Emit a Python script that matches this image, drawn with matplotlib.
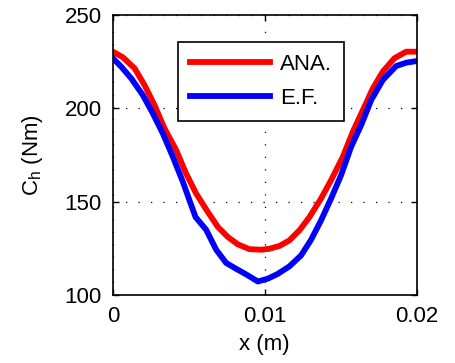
import matplotlib

matplotlib.use("Agg")
import matplotlib.pyplot as plt

x_ana = [0.0, 0.00066, 0.00143, 0.00208, 0.00274, 0.0034, 0.00417, 0.00482,
         0.00548, 0.00625, 0.00691, 0.00757, 0.00822, 0.00899, 0.00976, 0.0103,
         0.01096, 0.01162, 0.01228, 0.01294, 0.0137, 0.01436, 0.01513, 0.01579,
         0.01645, 0.01711, 0.01776, 0.01853, 0.0193, 0.02]
ch_ana = [230.3, 227.3, 221.4, 212.5, 201.7, 189.2, 177.6, 165.1,
          154.4, 144.5, 136.5, 131.1, 127.2, 124.6, 124.3, 124.8,
          126.3, 129.3, 134.7, 141.8, 151.7, 161.5, 174.0, 187.4,
          199.0, 210.7, 219.6, 226.8, 230.3, 230.3]

x_ef = [0.0, 0.00055, 0.00121, 0.00197, 0.00263, 0.00329, 0.00395, 0.00461,
        0.00504, 0.00544, 0.00614, 0.0068, 0.00746, 0.00811, 0.00877, 0.00954,
        0.0102, 0.01086, 0.01162, 0.01239, 0.01305, 0.0137, 0.01436, 0.01502,
        0.01568, 0.01634, 0.017, 0.01776, 0.01864, 0.0193, 0.02]
ch_ef = [226.8, 222.3, 216.0, 207.1, 197.3, 186.5, 174.0, 160.6,
         150.8, 141.8, 135.0, 124.3, 117.2, 114.1, 111.1, 107.3,
         108.8, 111.4, 115.4, 121.3, 129.7, 140.0, 151.7, 164.2,
         179.4, 191.0, 204.4, 215.1, 222.6, 224.4, 225.3]

x_ticks = [0, 0.01, 0.02]
x_ticklabels = ["0", "0.01", "0.02"]
y_ticks = [100, 150, 200, 250]

plt.rcParams.update({
    "font.family": ["Liberation Sans", "DejaVu Sans"],
    "font.size": 16,
    "mathtext.fontset": "custom",
    "mathtext.rm": "Liberation Sans",
    "mathtext.it": "Liberation Sans:italic",
    "mathtext.bf": "Liberation Sans:bold",
})

fig = plt.figure(figsize=(4.55, 3.63), dpi=100)
ax = fig.add_axes([0.248, 0.187, 0.668, 0.772])

ax.plot(x_ana, ch_ana, color="#ff0000", lw=4.2, label="ANA.", solid_joinstyle="round")
ax.plot(x_ef, ch_ef, color="#0000ff", lw=4.2, label="E.F.", solid_joinstyle="round")

ax.set_xlim(0, 0.02)
ax.set_ylim(100, 250)
ax.set_xticks(x_ticks)
ax.set_xticklabels(x_ticklabels)
ax.set_yticks(y_ticks)
ax.tick_params(direction="in", top=True, right=True, length=4, width=1,
               labelsize=16, pad=8)
ax.grid(True, ls=(0, (1, 9)), color="black", lw=0.9)
for s in ax.spines.values():
    s.set_linewidth(1.2)

ax.set_xlabel("x (m)", labelpad=5)
ax.set_ylabel(r"C$_{\mathrm{h}}$ (Nm)", labelpad=14)

leg = ax.legend(loc="upper left", bbox_to_anchor=(0.213, 0.905), fancybox=False,
                framealpha=1, edgecolor="black", handlelength=3.6,
                handletextpad=0.45, labelspacing=0.6, borderpad=0.55,
                borderaxespad=0)
leg.get_frame().set_linewidth(1.2)

fig.savefig("out.png", dpi=100)
